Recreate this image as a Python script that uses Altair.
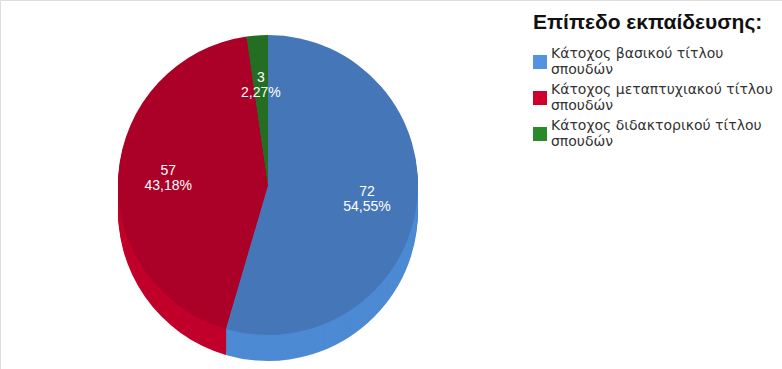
import altair as alt
import pandas as pd

categories = [
    "Κάτοχος βασικού τίτλου σπουδών",
    "Κάτοχος μεταπτυχιακού τίτλου σπουδών",
    "Κάτοχος διδακτορικού τίτλου σπουδών",
]
counts = [72, 57, 3]
percent_labels = ["54,55%", "43,18%", "2,27%"]
slice_order = [1, 2, 3]

top_colors = ["#4577b8", "#ab0027", "#236e23"]
side_colors = ["#4d8ad4", "#c1002b", "#2a862a"]
legend_colors = ["#5393e0", "#d0002e", "#2a8a2a"]

df = pd.DataFrame({
    "category": categories,
    "count": counts,
    "pct": percent_labels,
    "ord": slice_order,
})

CX, CY, R, DEPTH = 268, 185, 150, 26

theta = alt.Theta("count:Q", stack=True)
order = alt.Order("ord:Q")

base = alt.Chart(df).encode(theta=theta, order=order)

layers = []
# side (depth) layers
for off in range(DEPTH, 0, -2):
    layers.append(
        base.mark_arc(outerRadius=R, stroke=None).encode(
            color=alt.Color(
                "category:N",
                scale=alt.Scale(domain=categories, range=side_colors),
                legend=None,
            ),
            x=alt.value(CX),
            y=alt.value(CY + off),
        )
    )

legend_layer = base.mark_arc(outerRadius=R, opacity=0).encode(
    color=alt.Color(
        "category:N",
        scale=alt.Scale(domain=categories, range=legend_colors),
        legend=alt.Legend(
            title="Επίπεδο εκπαίδευσης:",
            orient="none",
            legendX=533,
            legendY=12,
            symbolType="square",
            symbolSize=196,
            symbolStrokeWidth=0,
            symbolOpacity=1,
            labelExpr="[slice(datum.label, 0, lastindexof(datum.label, ' ')), slice(datum.label, lastindexof(datum.label, ' ') + 1)]",
            labelFont="DejaVu Sans",
            labelFontSize=14,
            labelColor="#333333",
            labelLimit=300,
            labelBaseline="line-bottom",
            labelOffset=4,
            titleFont="Liberation Sans",
            titleFontSize=21,
            titleFontWeight="bold",
            titleColor="#111111",
            titleLimit=400,
            titlePadding=22,
            rowPadding=6,
        ),
    ),
    x=alt.value(CX),
    y=alt.value(CY),
)

top = base.mark_arc(outerRadius=R, stroke=None).encode(
    color=alt.Color(
        "category:N",
        scale=alt.Scale(domain=categories, range=top_colors),
        legend=None,
    ),
    x=alt.value(CX),
    y=alt.value(CY),
)

label_text = base.transform_calculate(
    lbl="datum.count + '\\n' + datum.pct"
).mark_text(
    font="Liberation Sans", fontSize=14, color="white",
    lineBreak="\n", baseline="middle", align="center", lineHeight=15, dy=-7,
).encode(
    text="lbl:N", x=alt.value(CX), y=alt.value(CY), radius=alt.value(100)
)

chart = alt.layer(
    *layers, legend_layer, top, label_text
).resolve_scale(color="independent").properties(
    width=782, height=369, autosize=alt.AutoSizeParams(type="none"), padding=0
).configure_view(stroke=None).configure(background="white")

chart.save("out.html", embed_options={"renderer": "svg", "actions": False})
